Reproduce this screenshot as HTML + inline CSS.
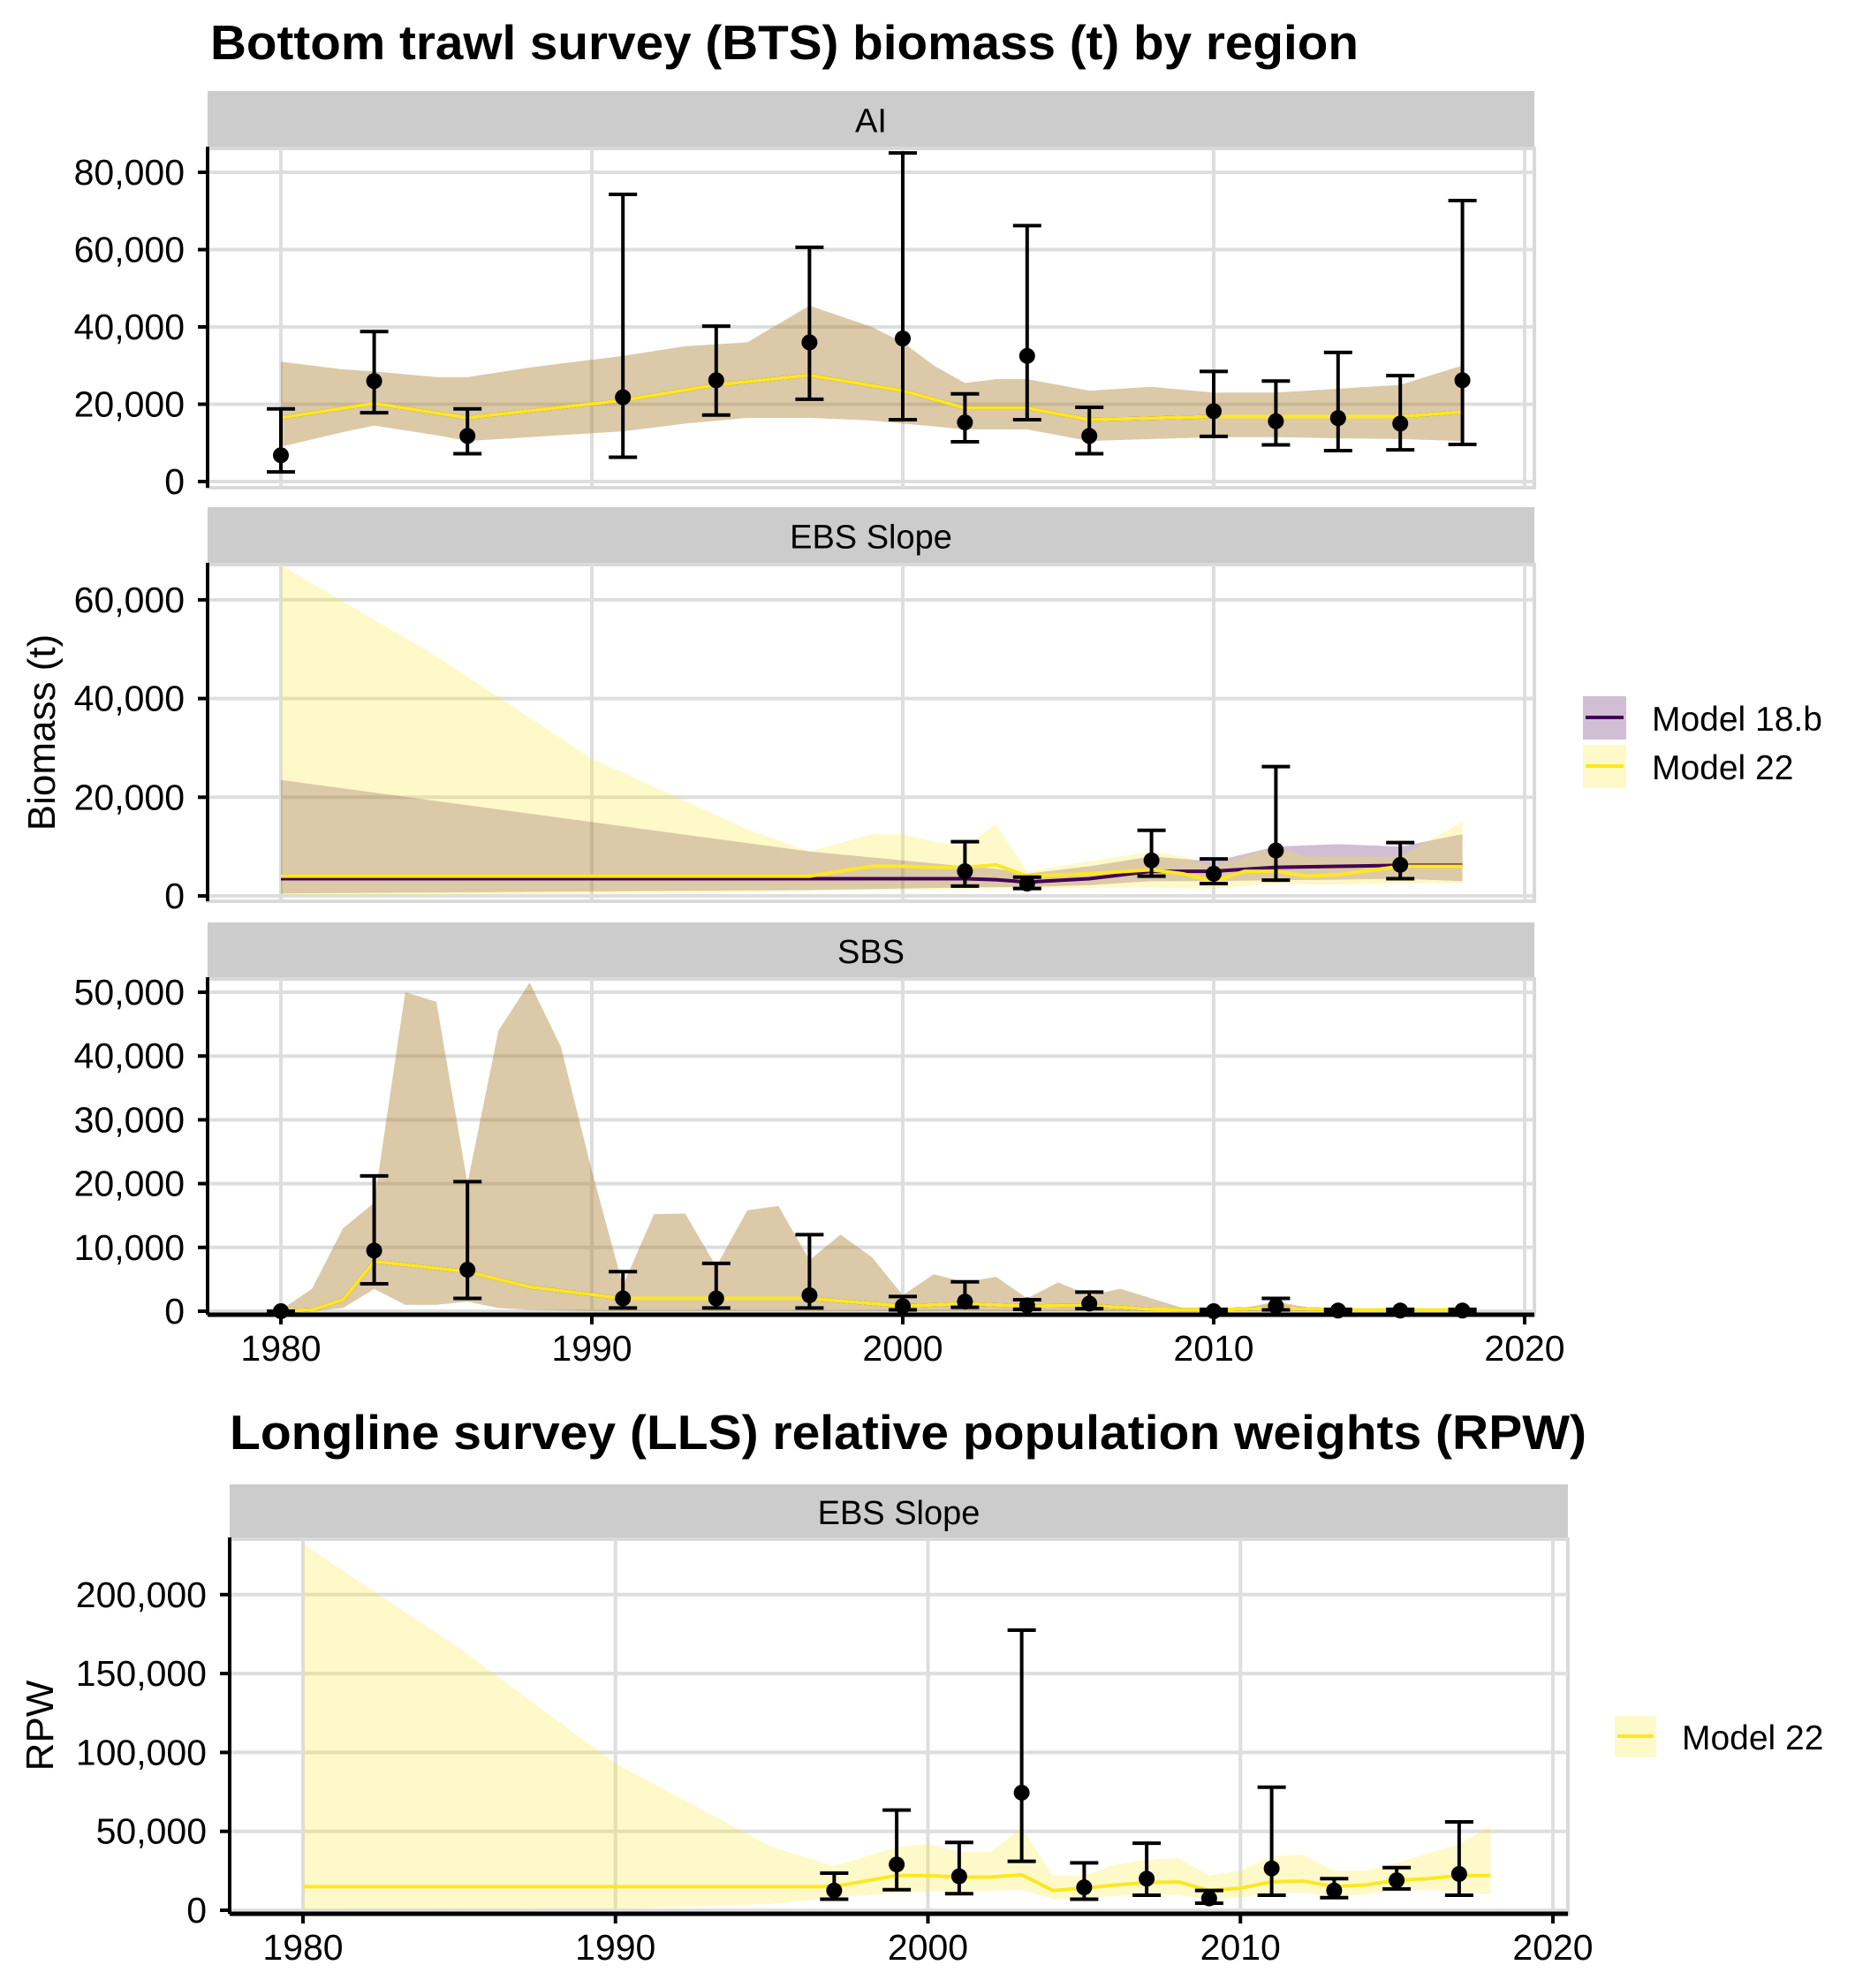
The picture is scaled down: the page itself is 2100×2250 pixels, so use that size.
<!DOCTYPE html>
<html><head><meta charset="utf-8"><style>
html,body{margin:0;padding:0;background:#fff}
svg{display:block}
text{font-family:"Liberation Sans",Arial,sans-serif;fill:#000}
</style></head><body>
<svg id="chart" width="2100" height="2250" viewBox="0 0 2100 2250" xmlns="http://www.w3.org/2000/svg">
<rect width="2100" height="2250" fill="#fff"/>
<text x="238" y="67" font-size="55" font-weight="bold" textLength="1300" lengthAdjust="spacingAndGlyphs">Bottom trawl survey (BTS) biomass (t) by region</text>
<text x="260" y="1640" font-size="55" font-weight="bold" textLength="1536" lengthAdjust="spacingAndGlyphs">Longline survey (LLS) relative population weights (RPW)</text>
<text transform="translate(62,829) rotate(-90)" text-anchor="middle" font-size="44">Biomass (t)</text>
<text transform="translate(60,1953) rotate(-90)" text-anchor="middle" font-size="44">RPW</text>
<g>
<rect x="1792" y="788" width="49" height="49" fill="#440154" fill-opacity="0.25"/>
<line x1="1795" x2="1838" y1="812" y2="812" stroke="#440154" stroke-width="4"/>
<rect x="1792" y="843" width="49" height="49" fill="#FDE725" fill-opacity="0.25"/>
<line x1="1795" x2="1838" y1="867" y2="867" stroke="#FDE725" stroke-width="4"/>
<text x="1870" y="827" font-size="39">Model 18.b</text>
<text x="1870" y="882" font-size="39">Model 22</text>
</g>
<g>
<rect x="1828" y="1942" width="47" height="47" fill="#FDE725" fill-opacity="0.25"/>
<line x1="1831" x2="1872" y1="1965" y2="1965" stroke="#FDE725" stroke-width="4"/>
<text x="1904" y="1980" font-size="39">Model 22</text>
</g>
</svg>
<script>
// ---------- AI ----------
const aiObsYears=[1980,1983,1986,1991,1994,1997,2000,2002,2004,2006,2010,2012,2014,2016,2018];
const aiObs=[6800,26000,11800,21800,26200,36000,37000,15300,32500,11800,18200,15600,16400,15000,26200];
const aiObsLo=[2500,17800,7200,6300,17200,21300,16000,10300,16000,7200,11700,9500,8000,8200,9600];
const aiObsHi=[18800,38800,18800,74300,40200,60600,85000,22700,66200,19200,28500,26000,33400,27400,72700];
const aiLineYears=[1980,1983,1986,1991,1994,1997,2000,2002,2004,2006,2010,2012,2014,2016,2018];
const aiLine=[16500,20200,16500,21000,25000,27500,23500,19000,19000,16000,16800,16800,16800,16800,18000];
const aiBandYears=[1980,1982,1983,1985,1986,1988,1991,1993,1995,1997,1999,2000,2001,2002,2003,2004,2005,2006,2008,2010,2012,2014,2016,2018];
const aiUpper=[31000,29000,28500,27000,27000,29500,32500,35000,36000,45500,40000,36000,30000,25500,26500,26500,25000,23500,24500,23000,23000,24000,25000,30000];
const aiLower=[9000,12800,14500,12000,10500,11500,13000,15000,16500,16500,15800,15000,14300,13500,13500,13500,12000,10500,11000,11500,11500,11200,11000,10500];
const aiTicks=[0,20000,40000,60000,80000];
// ---------- EBS Slope (BTS) ----------
const ebsObsYears=[2002,2004,2008,2010,2012,2016];
const ebsObs=[5000,2500,7200,4500,9200,6300];
const ebsObsLo=[2000,1500,4000,2500,3200,3500];
const ebsObsHi=[11000,3800,13300,7500,26200,10800];
const ebsM18Years=[1980,1997,2002,2003,2004,2006,2008,2010,2012,2014,2016,2018];
const ebsM18=[3500,3500,3500,3300,2800,3500,5000,5000,5800,6000,6200,6200];
const ebsM18Up=[23500,9000,6000,5500,4500,6000,8000,7000,10000,10500,10000,12500];
const ebsM18Lo=[500,1200,1700,1800,1800,2200,3000,3000,3200,3300,3500,3000];
const ebsM22Years=[1980,1985,1990,1995,1997,1999,2000,2001,2002,2003,2004,2006,2008,2009,2010,2011,2012,2013,2014,2016,2018];
const ebsM22=[4000,4000,4000,4000,4000,6000,6000,5800,5800,6300,4000,4500,5300,4500,3000,5000,5000,4000,4300,6000,6000];
const ebsM22Up=[67000,48600,27800,13500,9000,12500,12500,11000,10000,14500,5000,7000,9000,8000,6000,8000,10000,8000,8000,8000,15000];
const ebsM22Lo=[0,200,500,800,1000,1200,1200,1300,1400,1500,1500,1600,1700,1600,1500,2000,2500,2300,2300,2500,2500];
const ebsTicks=[0,20000,40000,60000];
// ---------- SBS ----------
const sbsObsYears=[1980,1983,1986,1991,1994,1997,2000,2002,2004,2006,2010,2012,2014,2016,2018];
const sbsObs=[0,9500,6500,2000,2000,2500,800,1500,900,1200,0,800,100,100,100];
const sbsObsLo=[0,4300,2000,500,500,500,200,600,300,400,0,200,0,0,0];
const sbsObsHi=[0,21200,20300,6200,7500,12000,2300,4600,1800,3000,300,2000,300,300,300];
const sbsLineYears=[1980,1981,1982,1983,1986,1988,1991,1997,2000,2002,2004,2006,2008,2010,2012,2014,2018];
const sbsLine=[0,200,1800,7800,6200,3800,2000,2000,800,1200,800,900,300,200,500,200,200];
const sbsBandYears=[1980,1981,1982,1983,1984,1985,1986,1987,1988,1989,1990,1991,1992,1993,1994,1995,1996,1997,1998,1999,2000,2001,2002,2003,2004,2005,2006,2007,2008,2009,2010,2011,2012,2013,2014,2018];
const sbsUpper=[200,3500,13000,17000,50000,48500,20000,44000,51500,41500,22000,4000,15200,15300,7000,15800,16500,8000,12000,8500,2500,5800,4500,5400,2000,4500,2500,3500,2000,500,200,500,1500,600,300,300];
const sbsLower=[0,0,500,3500,1000,1000,1500,500,200,100,0,0,0,0,0,0,0,0,0,0,0,0,0,0,0,0,0,0,0,0,0,0,0,0,0,0];
const sbsTicks=[0,10000,20000,30000,40000,50000];
// ---------- LLS ----------
const llsObsYears=[1997,1999,2001,2003,2005,2007,2009,2011,2013,2015,2017];
const llsObs=[12500,29000,21500,74500,14500,20000,7500,26500,12500,19000,23000];
const llsObsLo=[7000,13000,10500,31000,7000,9500,4500,9500,8000,13500,9500];
const llsObsHi=[23500,63500,43000,177500,30000,42500,12500,78000,20000,27000,56000];
const llsYears=[1980,1985,1990,1995,1997,1999,2000,2001,2002,2003,2004,2005,2006,2007,2008,2009,2010,2011,2012,2013,2014,2015,2016,2017,2018];
const llsLine=[15000,15000,15000,15000,15000,22000,22000,21000,21000,22500,12500,14000,16000,17500,18000,12500,14000,18000,18500,15000,16000,19000,20000,22000,22000];
const llsUpper=[232000,166000,93000,40000,28000,40000,42000,37000,37000,52000,22000,22000,29000,32000,33000,22000,25000,34000,35000,25000,25000,30000,36000,42000,53000];
const llsLower=[500,700,1000,4000,8000,11000,12000,12000,12500,13000,7000,8000,9000,10000,9500,7000,8000,11000,11000,9000,10000,13000,13000,12000,10000];
const llsTicks=[0,50000,100000,150000,200000];
const xTicks=[1980,1990,2000,2010,2020];

const NS='http://www.w3.org/2000/svg';
const svg=document.getElementById('chart');
function mk(tag,attrs,parent){const e=document.createElementNS(NS,tag);for(const k in attrs)e.setAttribute(k,attrs[k]);(parent||svg).appendChild(e);return e;}
function fmt(v){return v.toLocaleString('en-US');}
function linScale(d0,d1,r0,r1){return v=>r0+(v-d0)*(r1-r0)/(d1-d0);}

function panel(cfg){
  const g=mk('g',{});
  
  
  const L=cfg.L,R=cfg.R,T=cfg.T,B=cfg.B,sT=cfg.sT,xs=cfg.xs,ys=cfg.ys;
  const strip=mk('rect',{x:L,y:sT,width:R-L,height:T-sT,fill:'#cccccc'},g);
  
  
  const st=mk('text',{x:(L+R)/2,y:(sT+T)/2+14,'text-anchor':'middle','font-size':38},g);
  st.textContent=cfg.strip;
  
  
  mk('rect',{x:L,y:T,width:R-L,height:B-T,fill:'#fff',stroke:'#d9d9d9','stroke-width':4},g);
  cfg.yTicks.forEach(function(t){const y=ys(t);
    const gl=mk('line',{x1:L,x2:R,y1:y,y2:y,stroke:'#dedede','stroke-width':4},g);
    
    
    mk('line',{x1:L-11,x2:L,y1:y,y2:y,stroke:'#000','stroke-width':4},g);
    const tl=mk('text',{x:L-26,y:y+14,'text-anchor':'end','font-size':41},g);
    tl.textContent=fmt(t);
    
    
  });
  xTicks.forEach(function(t){const x=xs(t);
    const gl=mk('line',{x1:x,x2:x,y1:T,y2:B,stroke:'#dedede','stroke-width':4},g);
    
    
  });
  cfg.series.forEach(function(s){
    let d='';
    s.bandYears.forEach(function(yr,i){d+=(i?'L':'M')+xs(yr)+','+ys(s.up[i]);});
    for(let i=s.bandYears.length-1;i>=0;i--)d+='L'+xs(s.bandYears[i])+','+ys(s.lo[i]);
    const p=mk('path',{d:d+'Z',fill:s.color,'fill-opacity':0.25},g);
    
    
  });
  cfg.series.forEach(function(s){
    const pts=s.lineYears.map(function(yr,i){return xs(yr)+','+ys(s.mid[i]);}).join(' ');
    const l=mk('polyline',{points:pts,fill:'none',stroke:s.color,'stroke-width':4,'stroke-linejoin':'round'},g);
    
    
  });
  const o=cfg.obs;
  o.years.forEach(function(yr,i){const x=xs(yr);
    const eg=mk('g',{stroke:'#000','stroke-width':4},g);
    
    
    mk('line',{x1:x,x2:x,y1:ys(o.lo[i]),y2:ys(o.hi[i])},eg);
    mk('line',{x1:x-16,x2:x+16,y1:ys(o.lo[i]),y2:ys(o.lo[i])},eg);
    mk('line',{x1:x-16,x2:x+16,y1:ys(o.hi[i]),y2:ys(o.hi[i])},eg);
    const c=mk('circle',{cx:x,cy:ys(o.v[i]),r:9,fill:'#000'},g);
    
    
  });
  mk('line',{x1:L,x2:L,y1:T-2,y2:B,stroke:'#000','stroke-width':4},g);
  if(cfg.xLabels){
    mk('line',{x1:L,x2:R,y1:B,y2:B,stroke:'#000','stroke-width':5},g);
    xTicks.forEach(function(t){const x=xs(t);
      mk('line',{x1:x,x2:x,y1:B,y2:B+11,stroke:'#000','stroke-width':4},g);
      const tl=mk('text',{x:x,y:B+52,'text-anchor':'middle','font-size':41},g);
      tl.textContent=t;
      
      
    });
  }
}
const xsB=linScale(1980,2020,318,1726);
const xsL=linScale(1980,2020,343,1758);
panel({name:'ai-panel',strip:'AI',L:235,R:1737,sT:103,T:168,B:552,xs:xsB,ys:linScale(0,20000,545,457.5),yTicks:aiTicks,
  series:[
    {key:'ai-model-18b',color:'#440154',bandYears:aiBandYears,up:aiUpper,lo:aiLower,lineYears:aiLineYears,mid:aiLine},
    {key:'ai-model-22',color:'#FDE725',bandYears:aiBandYears,up:aiUpper,lo:aiLower,lineYears:aiLineYears,mid:aiLine}],
  obs:{years:aiObsYears,v:aiObs,lo:aiObsLo,hi:aiObsHi}});
panel({name:'ebs-slope-panel',strip:'EBS Slope',L:235,R:1737,sT:574,T:639,B:1020,xs:xsB,ys:linScale(0,20000,1014,902.3),yTicks:ebsTicks,
  series:[
    {key:'ebs-model-18b',color:'#440154',bandYears:ebsM18Years,up:ebsM18Up,lo:ebsM18Lo,lineYears:ebsM18Years,mid:ebsM18},
    {key:'ebs-model-22',color:'#FDE725',bandYears:ebsM22Years,up:ebsM22Up,lo:ebsM22Lo,lineYears:ebsM22Years,mid:ebsM22}],
  obs:{years:ebsObsYears,v:ebsObs,lo:ebsObsLo,hi:ebsObsHi}});
panel({name:'sbs-panel',strip:'SBS',L:235,R:1737,sT:1044,T:1108,B:1488,xs:xsB,ys:linScale(0,10000,1484,1411.8),yTicks:sbsTicks,xLabels:true,
  series:[
    {key:'sbs-model-18b',color:'#440154',bandYears:sbsBandYears,up:sbsUpper,lo:sbsLower,lineYears:sbsLineYears,mid:sbsLine},
    {key:'sbs-model-22',color:'#FDE725',bandYears:sbsBandYears,up:sbsUpper,lo:sbsLower,lineYears:sbsLineYears,mid:sbsLine}],
  obs:{years:sbsObsYears,v:sbsObs,lo:sbsObsLo,hi:sbsObsHi}});
panel({name:'lls-panel',strip:'EBS Slope',L:260,R:1775,sT:1680,T:1742,B:2166,xs:xsL,ys:linScale(0,50000,2162,2072.7),yTicks:llsTicks,xLabels:true,
  series:[
    {key:'lls-model-22',color:'#FDE725',bandYears:llsYears,up:llsUpper,lo:llsLower,lineYears:llsYears,mid:llsLine}],
  obs:{years:llsObsYears,v:llsObs,lo:llsObsLo,hi:llsObsHi}});
</script>
</body></html>
